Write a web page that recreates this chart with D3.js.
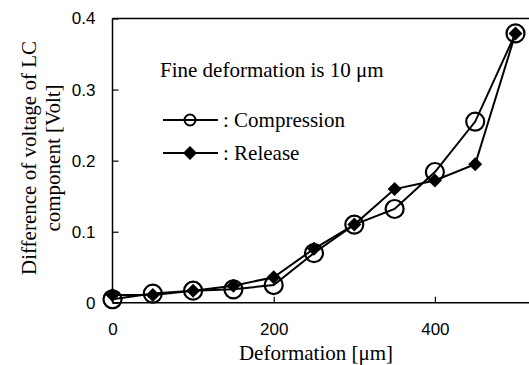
<!DOCTYPE html>
<html><head><meta charset="utf-8">
<script src="https://cdn.jsdelivr.net/npm/d3@7"></script>
<style>body{margin:0;background:#fff}svg{display:block}</style>
</head><body>
<svg id="c" width="529" height="365"></svg>
<script>
const deformation = [0, 50, 100, 150, 200, 250, 300, 350, 400, 450, 500];
const compression = [0.005, 0.013, 0.017, 0.019, 0.025, 0.070, 0.110, 0.132, 0.184, 0.255, 0.379];
const release =     [0.011, 0.011, 0.017, 0.024, 0.036, 0.076, 0.110, 0.160, 0.172, 0.195, 0.379];
const xTicks = [0, 200, 400];
const yTicks = [0, 0.1, 0.2, 0.3, 0.4];
const yTickLabels = ["0", "0.1", "0.2", "0.3", "0.4"];
const seriesNames = [": Compression", ": Release"];
const annotation = "Fine deformation is 10 \u03bcm";
const xTitle = "Deformation [\u03bcm]";
const yTitle = ["Difference of voltage of LC", "component [Volt]"];

const svg = d3.select("#c");
const x = d3.scaleLinear().domain([0, 500]).range([112.5, 515.5]);
const y = d3.scaleLinear().domain([0, 0.4]).range([302.8, 18.5]);
const serif = "'Liberation Serif','Times New Roman',serif";
const sans = "'Liberation Sans',Arial,sans-serif";

// frame: top line
svg.append("line").attr("x1", x(0)).attr("x2", 529).attr("y1", y(0.4)).attr("y2", y(0.4))
  .attr("stroke", "#000").attr("stroke-width", 1.3);

const xAxis = svg.append("g").attr("transform", `translate(0,${y(0)})`)
  .call(d3.axisBottom(x).tickValues(xTicks).tickSize(-6).tickPadding(20).tickFormat(d3.format("d")));
xAxis.select(".domain").attr("d", `M${x(0)},0H529`).attr("stroke-width", 1.5);
const yAxis = svg.append("g").attr("transform", `translate(${x(0)},0)`)
  .call(d3.axisLeft(y).tickValues(yTicks).tickSize(-6).tickPadding(17).tickFormat((d, i) => yTickLabels[i]));
yAxis.select(".domain").attr("d", `M0,${y(0)}V${y(0.4)}`).attr("stroke-width", 1.5);
svg.selectAll(".tick line").attr("stroke-width", 1.2).attr("stroke", "#000");
svg.selectAll(".tick text").attr("font-family", sans).attr("font-size", 17).attr("fill", "#000");
xAxis.selectAll(".tick text").attr("dy", "0.71em");

const line = d3.line().x((d, i) => x(deformation[i])).y(d => y(d));
const diamond = d3.symbol().type(d3.symbolDiamond2).size(125);

// compression
svg.append("path").datum(compression).attr("d", line).attr("fill", "none").attr("stroke", "#000").attr("stroke-width", 2);
svg.selectAll("circle.c").data(compression).join("circle").attr("class", "c")
  .attr("cx", (d, i) => x(deformation[i])).attr("cy", d => y(d)).attr("r", 9)
  .attr("fill", "none").attr("stroke", "#000").attr("stroke-width", 2.2);
// release
svg.append("path").datum(release).attr("d", line).attr("fill", "none").attr("stroke", "#000").attr("stroke-width", 2);
svg.selectAll("path.r").data(release).join("path").attr("class", "r")
  .attr("transform", (d, i) => `translate(${x(deformation[i])},${y(d)})`)
  .attr("d", diamond).attr("fill", "#000");

// annotation
svg.append("text").attr("x", 160).attr("y", 77).attr("font-family", serif).attr("font-size", 21).text(annotation);

// legend
const ly = [120, 153];
ly.forEach((yy, k) => {
  svg.append("line").attr("x1", 163).attr("x2", 218).attr("y1", yy).attr("y2", yy).attr("stroke", "#000").attr("stroke-width", 2);
  if (k === 0) {
    svg.append("circle").attr("cx", 190).attr("cy", yy).attr("r", 5.5).attr("fill", "none").attr("stroke", "#000").attr("stroke-width", 2);
  } else {
    svg.append("path").attr("transform", `translate(190,${yy})`).attr("d", diamond).attr("fill", "#000");
  }
  svg.append("text").attr("x", 223).attr("y", yy + 7).attr("font-family", serif).attr("font-size", 21).text(seriesNames[k]);
});

// axis titles
svg.append("text").attr("x", 316).attr("y", 360).attr("text-anchor", "middle")
  .attr("font-family", serif).attr("font-size", 21).text(xTitle);
yTitle.forEach((t, k) => {
  svg.append("text").attr("transform", `translate(${36 + k * 24},158) rotate(-90)`).attr("text-anchor", "middle")
    .attr("font-family", serif).attr("font-size", 21).text(t);
});
</script>
</body></html>
